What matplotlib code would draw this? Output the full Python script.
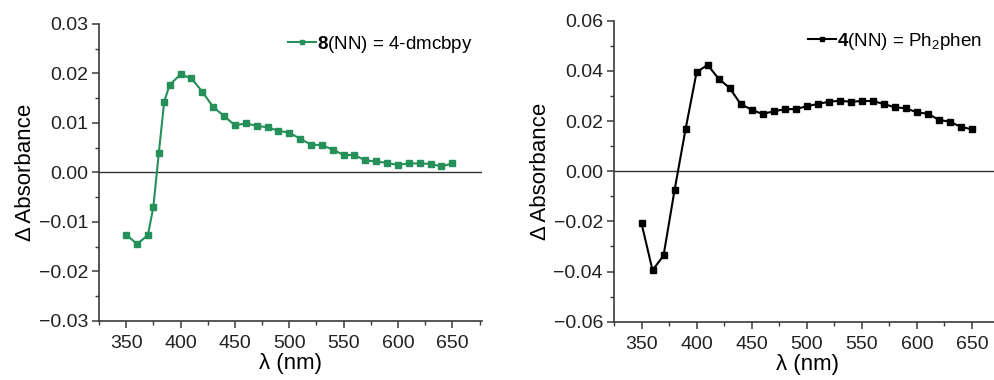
from __future__ import annotations

import matplotlib

matplotlib.use("Agg")
import matplotlib.pyplot as plt
from matplotlib.ticker import MultipleLocator

OUT_PATH = "out.png"

WAVELENGTH_8 = [350, 360, 370, 375, 380, 385, 390, 400, 410, 420, 430, 440, 450,
                460, 470, 480, 490, 500, 510, 520, 530, 540, 550, 560, 570, 580,
                590, 600, 610, 620, 630, 640, 650]
ABS_8 = [-0.0126, -0.0145, -0.0127, -0.0070, 0.0039, 0.0143, 0.0177, 0.0198,
         0.0190, 0.0163, 0.0132, 0.0114, 0.0095, 0.0099, 0.0094, 0.0091, 0.0084,
         0.0080, 0.0068, 0.0056, 0.0055, 0.0046, 0.0035, 0.0035, 0.0024, 0.0022,
         0.0019, 0.0015, 0.0018, 0.0018, 0.0017, 0.0012, 0.0018]

WAVELENGTH_4 = [350, 360, 370, 380, 390, 400, 410, 420, 430, 440, 450, 460, 470,
                480, 490, 500, 510, 520, 530, 540, 550, 560, 570, 580, 590, 600,
                610, 620, 630, 640, 650]
ABS_4 = [-0.0208, -0.0395, -0.0336, -0.0075, 0.0168, 0.0395, 0.0424, 0.0369,
         0.0332, 0.0268, 0.0245, 0.0228, 0.0239, 0.0247, 0.0248, 0.0259, 0.0268,
         0.0277, 0.0281, 0.0277, 0.0280, 0.0280, 0.0268, 0.0255, 0.0251, 0.0235,
         0.0229, 0.0205, 0.0197, 0.0177, 0.0167]

LABEL_8 = r"$\mathbf{8}$(NN) = 4-dmcbpy"
LABEL_4 = r"$\mathbf{4}$(NN) = Ph$_2$phen"

GREEN = "#25905a"
AXIS_COLOR = "#3a3a3a"


def style_axes(ax, ylim: float) -> None:
    for side in ("top", "right"):
        ax.spines[side].set_visible(False)
    for side in ("left", "bottom"):
        ax.spines[side].set_color(AXIS_COLOR)
        ax.spines[side].set_linewidth(1.2)
    ax.set_xlim(325, 677)
    ax.set_ylim(-ylim, ylim)
    ax.xaxis.set_major_locator(MultipleLocator(50))
    ax.xaxis.set_minor_locator(MultipleLocator(25))
    ax.yaxis.set_major_locator(MultipleLocator(ylim / 3))
    ax.yaxis.set_minor_locator(MultipleLocator(ylim / 6))
    ax.yaxis.set_major_formatter(lambda v, _: f"{v:.2f}".replace("-", "\u2212"))
    ax.tick_params(which="major", direction="out", length=5, width=1.1,
                   color=AXIS_COLOR, labelsize=14, colors="#222222")
    ax.tick_params(which="minor", direction="out", length=3, width=1.0,
                   color=AXIS_COLOR)
    ax.tick_params(axis="x", pad=5)
    ax.tick_params(axis="y", pad=3)
    ax.axhline(0, color="#333333", lw=1.0, zorder=1)
    ax.set_xlabel("\u03bb (nm)", fontsize=16, labelpad=1)
    ax.set_ylabel("\u0394 Absorbance", fontsize=16, labelpad=2)


def plot_panel(ax, x, y, color, label, ylim, anchor) -> None:
    ax.plot(x, y, color=color, lw=1.5, marker="s", ms=4.5, label=label, zorder=3)
    style_axes(ax, ylim)
    ax.legend(loc="upper right", frameon=False, fontsize=13.5, handlelength=1.5,
              handletextpad=0.05, borderaxespad=0.0, borderpad=0.0,
              markerscale=0.7, bbox_to_anchor=anchor)


def main() -> None:
    plt.rcParams["font.family"] = ["Liberation Sans", "DejaVu Sans"]
    plt.rcParams["mathtext.fontset"] = "custom"
    plt.rcParams["mathtext.rm"] = "Liberation Sans"
    plt.rcParams["mathtext.bf"] = "Liberation Sans:bold"

    fig = plt.figure(figsize=(9.94, 3.8), dpi=100)
    ax_left = fig.add_axes([0.0996, 0.156, 0.385, 0.781])
    ax_right = fig.add_axes([0.6177, 0.1534, 0.390, 0.792])

    plot_panel(ax_left, WAVELENGTH_8, ABS_8, GREEN, LABEL_8, 0.03, (0.977, 0.966))
    plot_panel(ax_right, WAVELENGTH_4, ABS_4, "black", LABEL_4, 0.06, (0.948, 0.966))

    fig.savefig(OUT_PATH, dpi=100)
    plt.close(fig)


if __name__ == "__main__":
    main()
